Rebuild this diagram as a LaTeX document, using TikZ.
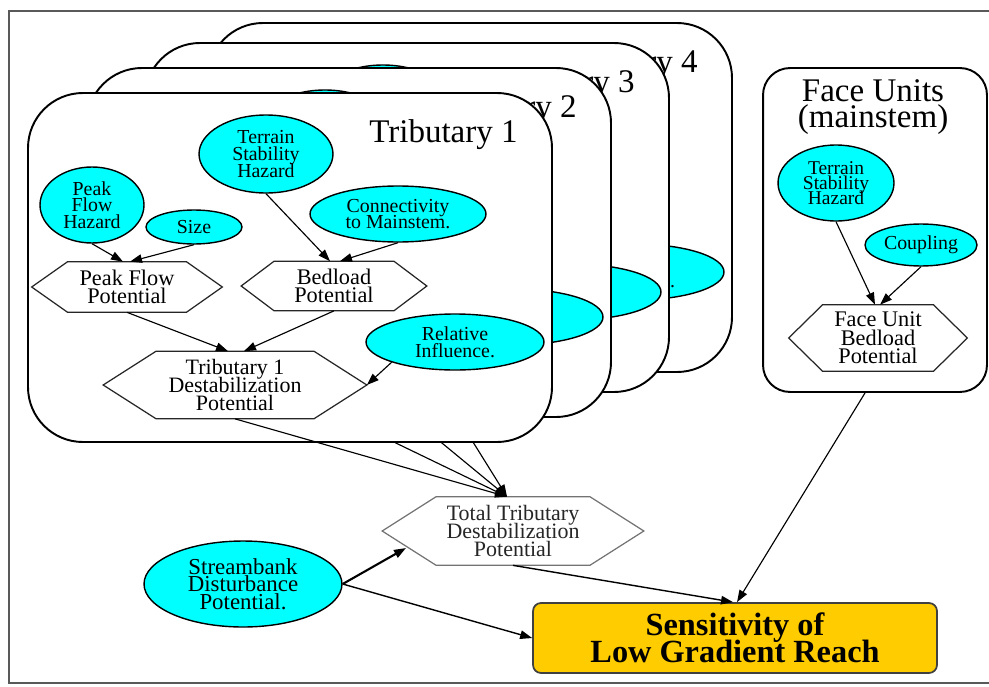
\documentclass[tikz,border=0pt]{standalone}
\usepackage{fontspec}
\setmainfont{Liberation Serif}
\usetikzlibrary{shapes.geometric,arrows.meta}

\definecolor{bubblecyan}{RGB}{0,255,255}
\definecolor{reachgold}{RGB}{255,204,0}

% hexagonal outline around a (borderless) rectangular node
\newcommand\hexframe[3][hexline]{%
  \draw[#1] (#2.west) -- ([xshift=#3]#2.north west) -- ([xshift=-#3]#2.north east)
    -- (#2.east) -- ([xshift=-#3]#2.south east) -- ([xshift=#3]#2.south west) -- cycle;}

\tikzset{
  frame/.style={draw=black!65, line width=1.3pt},
  panel/.style={draw=black, line width=1.1pt, fill=white, rounded corners=1.1cm},
  paneltitle/.style={inner sep=0pt, align=center, font=\fontsize{18.8}{14.8}\selectfont},
  bubble/.style={ellipse, draw=black, line width=0.8pt, fill=bubblecyan, inner sep=0pt,
    align=center, font=\fontsize{11.3}{9.5}\selectfont},
  hexnode/.style={rectangle, inner sep=0pt, align=center, font=\fontsize{12.7}{10.5}\selectfont},
  hexline/.style={draw=black!85, line width=0.7pt},
  link/.style={draw=black, line width=0.65pt, -{Triangle[length=0.24cm,width=0.17cm]}},
  % one tributary sub-model panel
  trib/.pic={
    \draw[panel] (28,93) rectangle (552,442);
    \node[paneltitle, anchor=base east] (-title) at (518,142) {Tributary #1};
    \node[bubble, minimum width=2.68cm, minimum height=1.56cm] (-tsh) at (266,154) {Terrain\\Stability\\Hazard};
    \node[bubble, minimum width=2.08cm, minimum height=1.52cm] (-pfh) at (92,205) {Peak\\Flow\\Hazard};
    \node[bubble, minimum width=1.92cm, minimum height=0.68cm] (-size) at (194,227) {Size};
    \node[bubble, minimum width=3.52cm, minimum height=1.12cm] (-conn) at (398,214) {Connectivity\\to Mainstem.};
    \node[hexnode, minimum width=3.8cm, minimum height=1.0cm] (-pfp) at (127,287) {Peak Flow\\Potential};
    \hexframe{-pfp}{0.72cm}
    \node[hexnode, minimum width=3.7cm, minimum height=0.98cm] (-bp) at (334,286) {Bedload\\Potential};
    \hexframe{-bp}{0.66cm}
    \node[bubble, minimum width=3.56cm, minimum height=1.12cm] (-ri) at (455,342) {Relative\\Influence.};
    \node[hexnode, minimum width=5.26cm, minimum height=1.34cm, font=\fontsize{12.5}{10}\selectfont]
      (-dst) at (235,385) {Tributary #1\\Destabilization\\Potential};
    \hexframe{-dst}{1.06cm}
    \draw[link] (-pfh.south) -- ([xshift=-0.08cm]-pfp.north);
    \draw[link] (-size.south) -- ([xshift=0.06cm]-pfp.north);
    \draw[link] (-tsh.south) -- ([xshift=-0.08cm]-bp.north);
    \draw[link] (-conn.south) -- ([xshift=0.12cm]-bp.north);
    \draw[link] (-pfp.south) -- ([xshift=-0.14cm]-dst.north);
    \draw[link] (-bp.south) -- ([xshift=0.18cm]-dst.north);
    \draw[link] (-ri.south west) -- (-dst.east);
  }
}

\begin{document}
\lineskiplimit=-100pt\relax
\begin{tikzpicture}[x=0.02cm, y=-0.02cm]
\useasboundingbox (0,0) rectangle (989,686);
\clip (0,0) rectangle (989,686);
\draw[frame] (1000,11) -- (9,11) -- (9,683) -- (1000,683);

% aggregate of all tributaries
\node[hexnode, text=black!85, minimum width=5.22cm, minimum height=1.36cm,
  font=\fontsize{12.5}{10}\selectfont] (total) at (513,531) {Total Tributary\\Destabilization\\Potential};
\hexframe[hexline, draw=black!55]{total}{1.08cm}
\coordinate (totin) at ([xshift=-0.12cm]total.north);

% stacked tributary panels, back to front
\pic (t4) at (180,-70) {trib=4};
\draw[link] (t4-dst.south) -- (totin);
\pic (t3) at (117,-50) {trib=3};
\draw[link] (t3-dst.south) -- (totin);
\pic (t2) at (59,-25) {trib=2};
\draw[link] (t2-dst.south) -- (totin);
\pic (t1) at (0,0) {trib=1};
\draw[link] (t1-dst.south) -- (totin);

% mainstem face units
\node[draw=black, line width=1.1pt, fill=white, rounded corners=0.54cm, minimum width=4.48cm,
  minimum height=6.48cm, inner sep=0pt] (face) at (875,230) {};
\node[paneltitle] (facetitle) at (873,107) {Face Units\\(mainstem)};
\node[bubble, font=\fontsize{11.1}{8.6}\selectfont, minimum width=2.32cm, minimum height=1.52cm]
  (ftsh) at (836,183) {Terrain\\Stability\\Hazard};
\node[bubble, minimum width=2.24cm, minimum height=0.84cm] (coup) at (921,245) {Coupling};
\node[hexnode, minimum width=3.56cm, minimum height=1.32cm] (fubp) at (878,338) {Face Unit\\Bedload\\Potential};
\hexframe{fubp}{0.68cm}
\draw[link] (ftsh.south) -- ([xshift=-0.06cm]fubp.north);
\draw[link] (coup.south) -- ([xshift=0.04cm]fubp.north);

% streambank input and final output
\node[bubble, font=\fontsize{13}{10}\selectfont, minimum width=3.96cm, minimum height=1.72cm]
  (sbd) at (243,584) {Streambank\\Disturbance\\Potential.};
\node[draw=black!75, line width=1pt, fill=reachgold, rounded corners=0.16cm, minimum width=8.08cm,
  minimum height=1.4cm, inner sep=0pt, align=center, font=\fontsize{18.4}{15.4}\selectfont\bfseries]
  (sens) at (735,638) {Sensitivity of\\Low Gradient Reach};

\draw[link, line width=1.2pt] (sbd.east) -- ([shift={(-107,17)}]total.center);
\draw[link, line width=0.8pt] (sbd.east) -- (sens.west);
\draw[link, line width=0.8pt] (total.south) -- ([xshift=-0.04cm]sens.north);
\draw[link] ([xshift=-0.2cm]face.south) -- ([xshift=0.04cm]sens.north);
\end{tikzpicture}
\end{document}
